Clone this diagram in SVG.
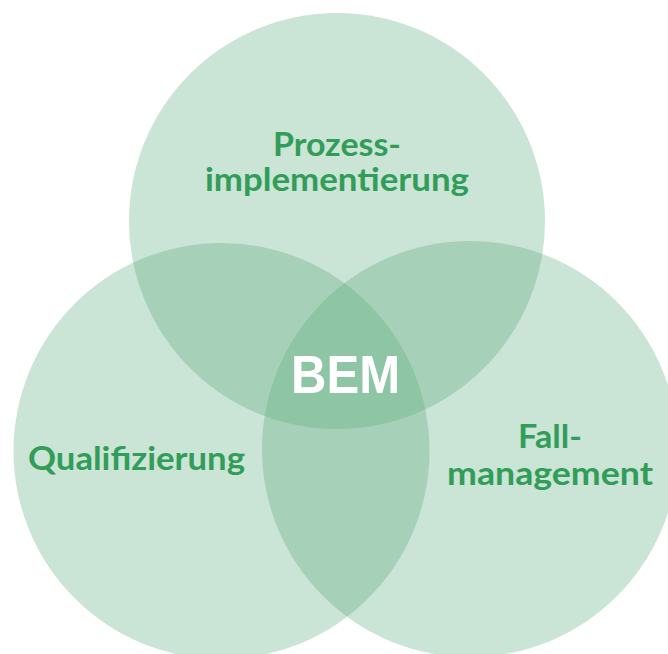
<svg xmlns="http://www.w3.org/2000/svg" width="668" height="654" viewBox="0 0 668 654">
  <style>
    .set { fill: #5aac7c; fill-opacity: 0.32; }
    .lbl { font-family: Lato, "Open Sans", "Liberation Sans", sans-serif; font-weight: 700; font-size: 32px; fill: #319d59; text-anchor: middle; }
    .core { font-family: "Liberation Sans", Arial, sans-serif; font-weight: 700; font-size: 53px; fill: #ffffff; text-anchor: middle; }
  </style>
  <rect width="668" height="654" fill="#ffffff"/>
  <g id="prozessimplementierung">
    <circle class="set" cx="337" cy="221" r="208"/>
    <text class="lbl" x="337" y="156" textLength="128" lengthAdjust="spacingAndGlyphs">Prozess-</text>
    <text class="lbl" x="337" y="191" textLength="264" lengthAdjust="spacingAndGlyphs">implementierung</text>
  </g>
  <g id="qualifizierung">
    <circle class="set" cx="221.5" cy="451" r="208"/>
    <text class="lbl" x="136.5" y="470" textLength="217" lengthAdjust="spacingAndGlyphs">Qualifizierung</text>
  </g>
  <g id="fallmanagement">
    <circle class="set" cx="470" cy="449" r="208"/>
    <text class="lbl" x="550" y="448" textLength="64" lengthAdjust="spacingAndGlyphs">Fall-</text>
    <text class="lbl" x="550" y="485" textLength="206" lengthAdjust="spacingAndGlyphs">management</text>
  </g>
  <g id="bem">
    <text class="core" x="345.5" y="393" textLength="109" lengthAdjust="spacingAndGlyphs">BEM</text>
  </g>
  <g id="connectors"/>
</svg>
